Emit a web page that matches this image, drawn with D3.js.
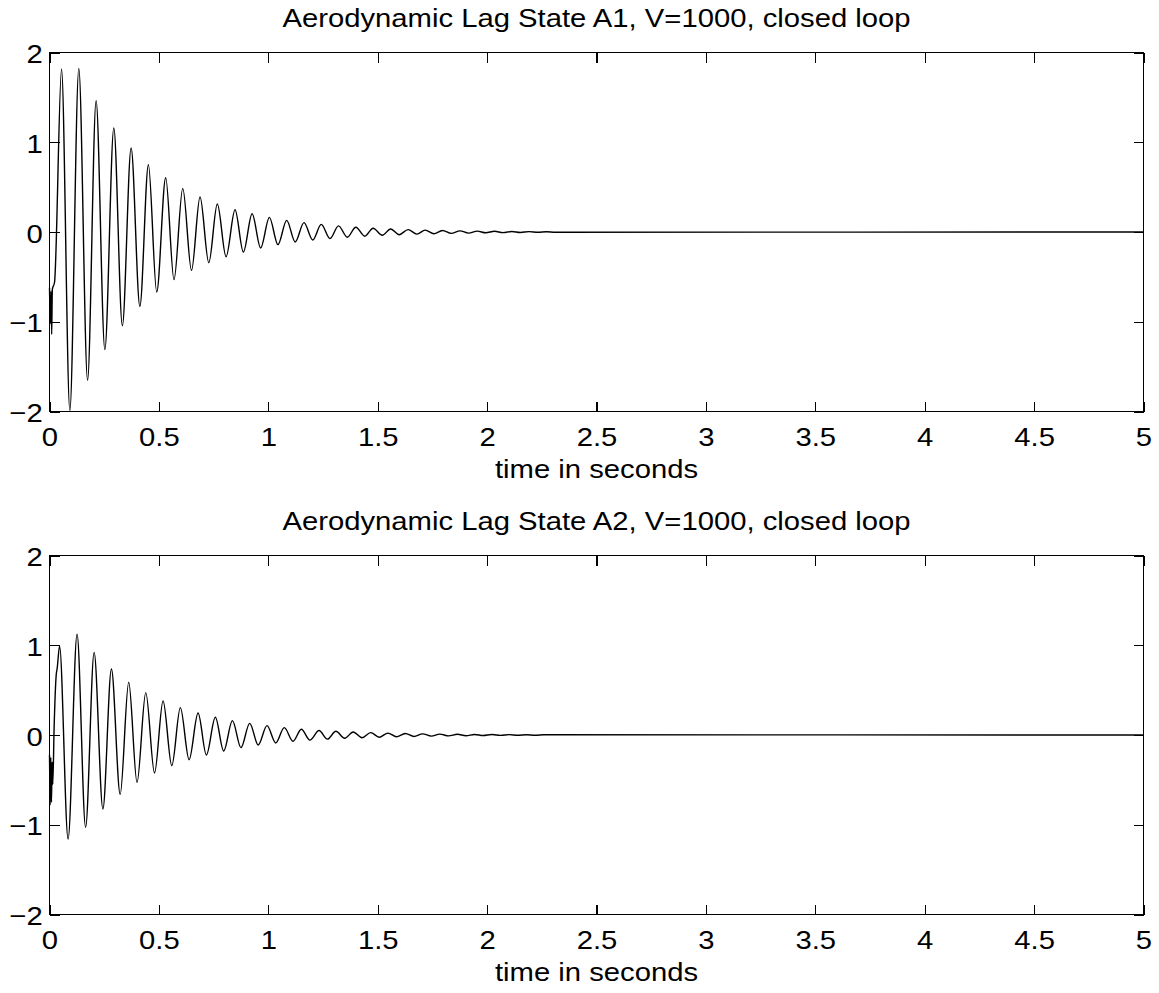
<!DOCTYPE html>
<html>
<head>
<meta charset="utf-8">
<script src="https://cdn.jsdelivr.net/npm/d3@7"></script>
<style>
  html, body { margin: 0; padding: 0; background: #fff; }
  svg { display: block; }
  text { font-family: "Liberation Sans", Arial, Helvetica, sans-serif; fill: #000; }
</style>
</head>
<body>
<svg id="fig" width="1159" height="993"></svg>
<script>
// ---- axis ticks and labels ----
const xTicks = [0, 0.5, 1, 1.5, 2, 2.5, 3, 3.5, 4, 4.5, 5];
const yTicks = [-2, -1, 0, 1, 2];
const xDomain = [0, 5];
const yDomain = [-2, 2];
const xLabel = "time in seconds";
const titles = [
  "Aerodynamic Lag State A1, V=1000, closed loop",
  "Aerodynamic Lag State A2, V=1000, closed loop"
];

// ---- lag state A1: time (s) and value at start-up points and successive extrema ----
const timeA1 = [
  0, 0.004, 0.007, 0.010, 0.013, 0.023,
  0.055, 0.093, 0.134, 0.174, 0.213, 0.253, 0.294, 0.333, 0.373, 0.413,
  0.452, 0.490, 0.531, 0.569, 0.609, 0.649, 0.688, 0.728, 0.767, 0.807,
  0.848, 0.886, 0.926, 0.965, 1.005, 1.044, 1.084, 1.123, 1.163, 1.203,
  1.242, 1.282, 1.321, 1.361, 1.400, 1.441, 1.479, 1.521, 1.559, 1.598,
  1.639, 1.679, 1.717, 1.757, 1.796, 1.836, 1.876, 1.915, 1.955, 1.994,
  2.034, 2.073, 2.113, 2.152, 2.192, 2.232, 2.271, 2.311, 5.0
];
const valueA1 = [
  -0.62, -1.02, -0.66, -1.14, -0.64, -0.56,
  1.816, -1.99, 1.823, -1.653, 1.463, -1.311, 1.159, -1.044, 0.936, -0.829,
  0.750, -0.669, 0.605, -0.531, 0.486, -0.427, 0.390, -0.342, 0.312, -0.275,
  0.248, -0.223, 0.204, -0.178, 0.163, -0.141, 0.130, -0.111, 0.104, -0.089,
  0.085, -0.072, 0.068, -0.058, 0.053, -0.047, 0.042, -0.037, 0.034, -0.030,
  0.027, -0.024, 0.021, -0.019, 0.017, -0.015, 0.013, -0.012, 0.010, -0.009,
  0.008, -0.007, 0.006, -0.005, 0.004, -0.003, 0.003, -0.002, 0
];

// ---- lag state A2 ----
const timeA2 = [
  0, 0.003, 0.006, 0.009, 0.012, 0.015, 0.021, 0.031, 0.035,
  0.046, 0.085, 0.126, 0.165, 0.204, 0.244, 0.283, 0.323, 0.362, 0.400,
  0.440, 0.480, 0.519, 0.559, 0.598, 0.638, 0.679, 0.717, 0.758, 0.796,
  0.836, 0.875, 0.915, 0.954, 0.994, 1.034, 1.073, 1.113, 1.151, 1.190,
  1.232, 1.270, 1.309, 1.349, 1.388, 1.428, 1.468, 1.507, 1.547, 1.586,
  1.626, 1.666, 1.705, 1.745, 1.784, 1.824, 1.864, 1.903, 1.943, 1.982,
  2.022, 2.062, 2.101, 2.141, 2.180, 2.220, 2.260, 5.0
];
const valueA2 = [
  -0.22, -0.78, -0.25, -0.75, -0.30, -0.55, 0.07, 0.68, 0.74,
  0.99, -1.159, 1.122, -1.029, 0.921, -0.824, 0.735, -0.661, 0.587, -0.527,
  0.472, -0.423, 0.379, -0.342, 0.305, -0.275, 0.245, -0.223, 0.197, -0.178,
  0.160, -0.141, 0.130, -0.111, 0.104, -0.089, 0.082, -0.070, 0.064, -0.057,
  0.050, -0.046, 0.041, -0.037, 0.034, -0.031, 0.027, -0.025, 0.021, -0.020,
  0.017, -0.016, 0.013, -0.012, 0.010, -0.010, 0.008, -0.008, 0.006, -0.006,
  0.005, -0.004, 0.004, -0.003, 0.003, -0.002, 0.002, 0
];

const seriesList = [
  { title: titles[0], t: timeA1, v: valueA1 },
  { title: titles[1], t: timeA2, v: valueA2 }
];

// ---- layout ----
const fontSize = 26;
const sx = 1.125;            // horizontal stretch of the lettering
const left = 49.5, right = 1143.5;
const panelTops = [52.5, 555.5];
const panelHeight = 359;
const tickLen = 10;

const svg = d3.select("#fig");
svg.append("rect").attr("width", 1159).attr("height", 993).attr("fill", "#fff");

seriesList.forEach((s, i) => {
  const top = panelTops[i];
  const bottom = top + panelHeight;
  const x = d3.scaleLinear().domain(xDomain).range([left, right]);
  const y = d3.scaleLinear().domain(yDomain).range([bottom, top]);

  const g = svg.append("g");

  // data trace
  const pts = s.t.map((t, k) => ({ t, v: s.v[k] }));
  const line = d3.line()
    .x(d => x(d.t))
    .y(d => y(d.v))
    .curve(d3.curveMonotoneX);
  g.append("path")
    .datum(pts)
    .attr("d", line)
    .attr("fill", "none")
    .attr("stroke", "#000")
    .attr("stroke-width", 1.4)
    .attr("stroke-linejoin", "round");

  // axes box
  g.append("rect")
    .attr("x", left).attr("y", top)
    .attr("width", right - left).attr("height", bottom - top)
    .attr("fill", "none").attr("stroke", "#000").attr("stroke-width", 1.2)
    .attr("shape-rendering", "crispEdges");

  const styleAxis = sel => {
    sel.select(".domain").remove();
    sel.selectAll(".tick line").attr("stroke", "#000").attr("stroke-width", 1.2)
      .attr("shape-rendering", "crispEdges");
  };

  // bottom axis with labels
  const gx = g.append("g").attr("transform", `translate(0,${bottom})`)
    .call(d3.axisBottom(x).tickValues(xTicks).tickSizeInner(-tickLen).tickSizeOuter(0)
      .tickFormat(d3.format("")));
  styleAxis(gx);
  gx.selectAll(".tick text")
    .attr("y", 34.5).attr("dy", null)
    .attr("font-size", fontSize)
    .attr("font-family", null)
    .attr("transform", `scale(${sx},1)`);

  // top axis, ticks only
  const gxt = g.append("g").attr("transform", `translate(0,${top})`)
    .call(d3.axisTop(x).tickValues(xTicks).tickSizeInner(-tickLen).tickSizeOuter(0)
      .tickFormat(""));
  styleAxis(gxt);
  gxt.selectAll(".tick text").remove();

  // left axis with labels
  const gy = g.append("g").attr("transform", `translate(${left},0)`)
    .call(d3.axisLeft(y).tickValues(yTicks).tickSizeInner(-tickLen).tickSizeOuter(0)
      .tickFormat(d3.format("")));
  styleAxis(gy);
  gy.selectAll(".tick text")
    .attr("x", -6.8 / sx).attr("dy", null).attr("y", 10)
    .attr("font-size", fontSize)
    .attr("font-family", null)
    .attr("transform", `scale(${sx},1)`);

  // right axis, ticks only
  const gyr = g.append("g").attr("transform", `translate(${right},0)`)
    .call(d3.axisRight(y).tickValues(yTicks).tickSizeInner(-tickLen).tickSizeOuter(0)
      .tickFormat(""));
  styleAxis(gyr);
  gyr.selectAll(".tick text").remove();

  // title
  g.append("g").attr("transform", `translate(${(left + right) / 2},${top - 26})`)
    .append("text")
    .attr("text-anchor", "middle")
    .attr("font-size", fontSize)
    .attr("transform", `scale(${sx},1)`)
    .text(s.title);

  // x label
  g.append("g").attr("transform", `translate(${(left + right) / 2},${bottom + 66.8})`)
    .append("text")
    .attr("text-anchor", "middle")
    .attr("font-size", fontSize)
    .attr("transform", `scale(${sx},1)`)
    .text(xLabel);
});
</script>
</body>
</html>
